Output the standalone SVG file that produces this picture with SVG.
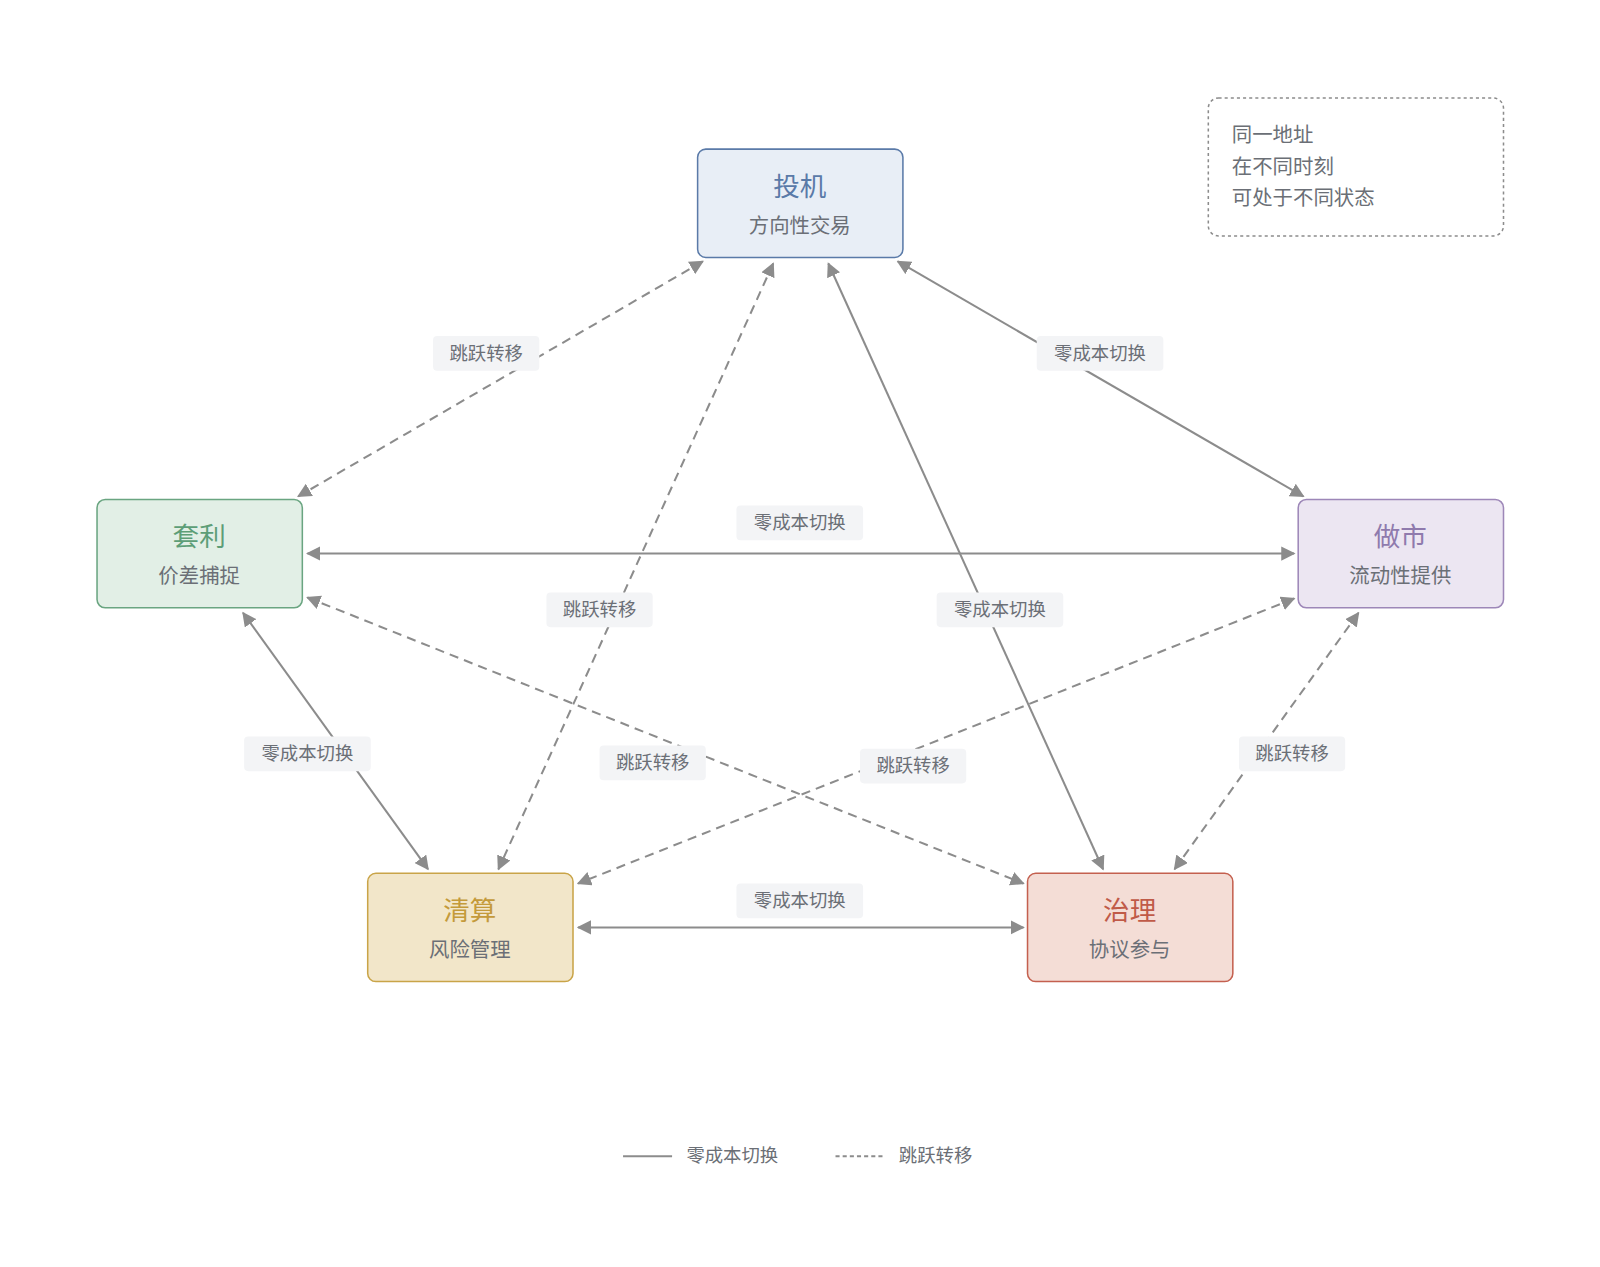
<svg xmlns="http://www.w3.org/2000/svg" width="1600" height="1267" viewBox="0 0 1600 1267">
<defs>
<marker id="a" viewBox="0 0 10 10" refX="9" refY="5" markerWidth="7" markerHeight="7" orient="auto-start-reverse"><path d="M0,0L10,5L0,10z" fill="#8c8c8c"/></marker>
<style>
text{font-family:"Noto Sans CJK SC","Noto Sans",sans-serif;text-anchor:middle}
.t{font-size:26px}.s{font-size:20px;fill:#6b6f76}
.e{stroke:#8c8c8c;stroke-width:2;fill:none;marker-start:url(#a);marker-end:url(#a)}
.d{stroke-dasharray:9 6}
.lb{fill:#f3f4f6}.lt{font-size:18px;fill:#6b6f76}
</style>
</defs>
<rect width="1600" height="1267" fill="#fff"/>
<g transform="scale(1.0214)">
<g id="connectors">
<line class="e d" x1="688" y1="256" x2="292" y2="486"/>
<line class="e d" x1="757" y1="258" x2="488" y2="851"/>
<line class="e" x1="811" y1="258" x2="1080" y2="851"/>
<line class="e" x1="879" y1="256" x2="1276" y2="486"/>
<line class="e" x1="301" y1="542" x2="1267" y2="542"/>
<line class="e d" x1="301" y1="585" x2="1002" y2="865"/>
<line class="e d" x1="1267" y1="586" x2="566" y2="865"/>
<line class="e" x1="238" y1="600" x2="419" y2="851"/>
<line class="e d" x1="1330" y1="600" x2="1150" y2="851"/>
<line class="e" x1="566" y1="908" x2="1002" y2="908"/>
<g>
<rect class="lb" x="424" y="329" width="104" height="34" rx="4"/><text class="lt" x="476" y="352">跳跃转移</text>
<rect class="lb" x="535" y="580" width="104" height="34" rx="4"/><text class="lt" x="587" y="603">跳跃转移</text>
<rect class="lb" x="917" y="580" width="124" height="34" rx="4"/><text class="lt" x="979" y="603">零成本切换</text>
<rect class="lb" x="1015" y="329" width="124" height="34" rx="4"/><text class="lt" x="1077" y="352">零成本切换</text>
<rect class="lb" x="721" y="495" width="124" height="34" rx="4"/><text class="lt" x="783" y="518">零成本切换</text>
<rect class="lb" x="587" y="730" width="104" height="34" rx="4"/><text class="lt" x="639" y="753">跳跃转移</text>
<rect class="lb" x="842" y="733" width="104" height="34" rx="4"/><text class="lt" x="894" y="756">跳跃转移</text>
<rect class="lb" x="239" y="721" width="124" height="34" rx="4"/><text class="lt" x="301" y="744">零成本切换</text>
<rect class="lb" x="1213" y="721" width="104" height="34" rx="4"/><text class="lt" x="1265" y="744">跳跃转移</text>
<rect class="lb" x="721" y="865" width="124" height="34" rx="4"/><text class="lt" x="783" y="888">零成本切换</text>
</g>
</g>
<g id="n1"><rect x="683" y="146" width="201" height="106" rx="8" fill="#e8eef6" stroke="#5a7aa8" stroke-width="1.5"/><text class="t" x="783" y="192" fill="#5a7aa8">投机</text><text class="s" x="783" y="228">方向性交易</text></g>
<g id="n2"><rect x="95" y="489" width="201" height="106" rx="8" fill="#e2efe6" stroke="#6aa581" stroke-width="1.5"/><text class="t" x="195" y="535" fill="#5d9e77">套利</text><text class="s" x="195" y="571">价差捕捉</text></g>
<g id="n3"><rect x="1271" y="489" width="201" height="106" rx="8" fill="#ece6f2" stroke="#9d87b8" stroke-width="1.5"/><text class="t" x="1371" y="535" fill="#8f7aad">做市</text><text class="s" x="1371" y="571">流动性提供</text></g>
<g id="n4"><rect x="360" y="855" width="201" height="106" rx="8" fill="#f2e6c9" stroke="#c9a448" stroke-width="1.5"/><text class="t" x="460" y="901" fill="#c49a3a">清算</text><text class="s" x="460" y="937">风险管理</text></g>
<g id="n5"><rect x="1006" y="855" width="201" height="106" rx="8" fill="#f4ddd6" stroke="#c4604f" stroke-width="1.5"/><text class="t" x="1106" y="901" fill="#c05a48">治理</text><text class="s" x="1106" y="937">协议参与</text></g>
<g id="note"><rect x="1183" y="96" width="289" height="135" rx="10" fill="none" stroke="#8c8c8c" stroke-width="1.5" stroke-dasharray="3 3"/>
<text class="s" x="1206" y="139" style="text-anchor:start">同一地址</text><text class="s" x="1206" y="170" style="text-anchor:start">在不同时刻</text><text class="s" x="1206" y="201" style="text-anchor:start">可处于不同状态</text></g>
<g id="legend"><line x1="610" y1="1132" x2="658" y2="1132" stroke="#8c8c8c" stroke-width="2"/><text class="lt" x="672" y="1138" style="text-anchor:start">零成本切换</text>
<line x1="818" y1="1132" x2="866" y2="1132" stroke="#8c8c8c" stroke-width="2" stroke-dasharray="4 3"/><text class="lt" x="880" y="1138" style="text-anchor:start">跳跃转移</text></g>
</g>
</svg>
